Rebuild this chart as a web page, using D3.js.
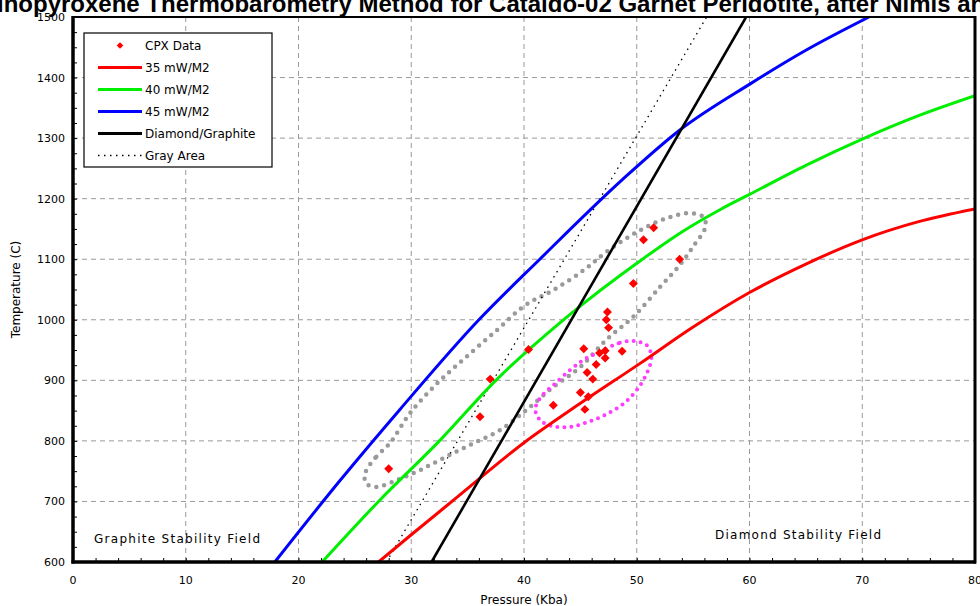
<!DOCTYPE html>
<html lang="en">
  <head>
    <meta charset="utf-8">
    <title>Thermobarometry</title>
    <script src="https://d3js.org/d3.v7.min.js"></script>
    <style>
      body { margin: 0; background: #fff; }
      text { font-family: "DejaVu Sans", sans-serif; }
      .title { font-family: "Liberation Sans", Arial, sans-serif; }
    </style>
  </head>

  <body>

    <script>

// ---- data (pressure in Kba, temperature in C) ----

  var titleText = "Clinopyroxene Thermobarometry Method for Cataldo-02 Garnet Peridotite, after Nimis and Taylor (2000)";

  var xTicks = [0, 10, 20, 30, 40, 50, 60, 70, 80];
  var yTicks = [600, 700, 800, 900, 1000, 1100, 1200, 1300, 1400, 1500];

  var cpxP = [28.0, 36.1, 37.0, 40.4, 42.6, 45.0, 45.7, 45.4, 45.6, 46.1, 46.4, 45.3, 46.7, 47.2, 47.2, 48.7, 47.3, 47.5, 47.4, 49.7, 50.6, 51.5, 53.8];
  var cpxT = [754, 840, 902, 951, 859, 880, 873, 852, 913, 902, 926, 952, 945, 949, 937, 948, 1000, 987, 1013, 1060, 1132, 1152, 1100];

  var geo35P = [27.1, 30, 33.8, 40, 45, 50.3, 55, 60, 65, 70, 75, 80];
  var geo35T = [600, 645, 703, 797, 862, 928, 988, 1045, 1092, 1132, 1162, 1183];

  var geo40P = [22.1, 27.1, 32.5, 37.5, 43.5, 50.5, 54, 57.5, 60, 65, 70.2, 75, 80];
  var geo40T = [600, 700, 800, 900, 1000, 1100, 1145, 1183, 1207, 1255, 1300, 1337, 1370];

  var geo45P = [17.9, 23.7, 29, 36, 41.4, 48.7, 53.8, 60.1, 65, 70.6];
  var geo45T = [600, 735, 852, 1000, 1100, 1231, 1313, 1390, 1445, 1500];

  var diamondP = [31.8, 59.7];
  var diamondT = [600, 1500];

  var grayLineP = [27.8, 56.2];
  var grayLineT = [600, 1500];

  // outline of the gray dotted field
  var grayAreaP = [25.9, 26.9, 28.1, 29.9, 32.3, 34.9, 37.6, 40.1, 42.6, 45.3, 47.3, 50.3, 52.7, 54.7, 55.9, 56.1,
                   55.0, 53.8, 52.1, 49.7, 47.3, 45.0, 42.6, 40.2, 37.9, 35.5, 33.1, 30.8, 28.7, 26.9, 26.0];
  var grayAreaT = [746, 774, 796, 846, 895, 939, 983, 1024, 1049, 1082, 1112, 1148, 1168, 1176, 1170, 1154,
                   1121, 1090, 1055, 1005, 967, 922, 889, 851, 818, 796, 774, 752, 735, 724, 730];

  // outline of the magenta dotted field
  var pinkAreaP = [46.7, 48.5, 49.7, 50.9, 51.3, 50.9, 50.0, 48.8, 47.2, 45.5, 44.0, 42.6, 41.5, 41.0, 41.4, 42.6, 44.1, 45.3];
  var pinkAreaT = [947, 962, 965, 958, 939, 912, 884, 861, 843, 830, 823, 824, 833, 851, 870, 892, 917, 934];

  var legendLabels = ["CPX Data", "35 mW/M2", "40 mW/M2", "45 mW/M2", "Diamond/Graphite", "Gray Area"];

// ---- svg ----

  var width = 980, height = 606;

  var svg = d3.select("body")
    .append("svg")
      .attr("width", width)
      .attr("height", height);

  var x = d3.scaleLinear().domain([0, 80]).range([73, 975]);
  var y = d3.scaleLinear().domain([600, 1500]).range([562, 17]);

  var zip = (ps, ts) => ps.map((p, i) => [p, ts[i]]);

  svg.append("clipPath").attr("id", "plot")
    .append("rect")
      .attr("x", 73).attr("y", 17)
      .attr("width", 902).attr("height", 545);

// title (wider than the page, clipped at both sides like the original)

  var title = svg.append("text")
      .attr("class", "title")
      .attr("y", 12)
      .attr("font-size", "24px")
      .attr("font-weight", "bold")
      .text(titleText);
  var clWidth = svg.append("text").attr("class", "title")
      .attr("font-size", "24px").attr("font-weight", "bold").text("Cl");
  title.attr("x", -clWidth.node().getComputedTextLength() - 3);
  clWidth.remove();

// grid

  var grid = svg.append("g")
      .attr("stroke", "#999")
      .attr("stroke-width", 1)
      .attr("stroke-dasharray", "5,4");

  grid.selectAll(".vg")
    .data(xTicks.slice(1, -1))
    .enter().append("line")
      .attr("x1", d => x(d)).attr("x2", d => x(d))
      .attr("y1", y(600)).attr("y2", y(1500));

  grid.selectAll(".hg")
    .data(yTicks.slice(1, -1))
    .enter().append("line")
      .attr("x1", x(0)).attr("x2", x(80))
      .attr("y1", d => y(d)).attr("y2", d => y(d));

// axes

  var xAxis = d3.axisBottom(x)
      .tickValues(d3.range(0, 81, 2))
      .tickSize(-4)
      .tickFormat("");
  svg.append("g")
      .attr("transform", "translate(0," + y(600) + ")")
      .call(xAxis)
      .call(g => g.select(".domain").remove());

  var yAxis = d3.axisLeft(y)
      .tickValues(d3.range(600, 1501, 25))
      .tickSize(-4)
      .tickFormat("");
  svg.append("g")
      .attr("transform", "translate(" + x(0) + ",0)")
      .call(yAxis)
      .call(g => g.select(".domain").remove());

  svg.append("g").selectAll("text")
    .data(xTicks)
    .enter().append("text")
      .attr("x", d => x(d))
      .attr("y", 584)
      .attr("text-anchor", "middle")
      .attr("font-size", "11px")
      .text(d => d);

  svg.append("g").selectAll("text")
    .data(yTicks)
    .enter().append("text")
      .attr("x", 65)
      .attr("y", d => y(d) + 4)
      .attr("text-anchor", "end")
      .attr("font-size", "11px")
      .text(d => d);

  svg.append("text")
      .attr("x", x(40))
      .attr("y", 604)
      .attr("text-anchor", "middle")
      .attr("font-size", "12px")
      .text("Pressure (Kba)");

  svg.append("text")
      .attr("transform", "translate(20," + y(1050) + ") rotate(-90)")
      .attr("text-anchor", "middle")
      .attr("font-size", "12px")
      .text("Temperature (C)");

// curves

  var line = d3.line()
      .x(d => x(d[0]))
      .y(d => y(d[1]))
      .curve(d3.curveMonotoneX);

  var loop = d3.line()
      .x(d => x(d[0]))
      .y(d => y(d[1]))
      .curve(d3.curveCatmullRomClosed.alpha(0.5));

  var plot = svg.append("g").attr("clip-path", "url(#plot)");

  plot.append("path")
      .attr("d", loop(zip(grayAreaP, grayAreaT)))
      .attr("fill", "none")
      .attr("stroke", "#9a9a9a")
      .attr("stroke-width", 4.5)
      .attr("stroke-linecap", "round")
      .attr("stroke-dasharray", "0,8");

  plot.append("path")
      .attr("d", loop(zip(pinkAreaP, pinkAreaT)))
      .attr("fill", "none")
      .attr("stroke", "#ff3cff")
      .attr("stroke-width", 4)
      .attr("stroke-linecap", "round")
      .attr("stroke-dasharray", "0,7");

  plot.append("path")
      .attr("d", line(zip(grayLineP, grayLineT)))
      .attr("fill", "none")
      .attr("stroke", "#000")
      .attr("stroke-width", 1.3)
      .attr("stroke-dasharray", "1.5,4.5");

  var curves = [
    { p: geo35P, t: geo35T, c: "#ff0000", w: 3 },
    { p: geo40P, t: geo40T, c: "#00ee00", w: 3 },
    { p: geo45P, t: geo45T, c: "#0000ff", w: 3 },
    { p: diamondP, t: diamondT, c: "#000000", w: 2.6 }
  ];

  plot.selectAll(".curve")
    .data(curves)
    .enter().append("path")
      .attr("d", d => line(zip(d.p, d.t)))
      .attr("fill", "none")
      .attr("stroke", d => d.c)
      .attr("stroke-width", d => d.w);

  var diamond = d3.symbol().type(d3.symbolSquare).size(40);

  plot.selectAll(".cpx")
    .data(zip(cpxP, cpxT))
    .enter().append("path")
      .attr("d", diamond)
      .attr("transform", d => "translate(" + x(d[0]) + "," + y(d[1]) + ") rotate(45)")
      .attr("fill", "#ff0000");

// frame

  svg.append("rect")
      .attr("x", 73).attr("y", 17)
      .attr("width", 902).attr("height", 545)
      .attr("fill", "none")
      .attr("stroke", "#000")
      .attr("stroke-width", 2);

  svg.append("line")
      .attr("x1", 73).attr("x2", 73).attr("y1", 16).attr("y2", 563.5)
      .attr("stroke", "#000").attr("stroke-width", 3.5);
  svg.append("line")
      .attr("x1", 71.5).attr("x2", 976).attr("y1", 562).attr("y2", 562)
      .attr("stroke", "#000").attr("stroke-width", 3.5);
  svg.append("line")
      .attr("x1", 975).attr("x2", 975).attr("y1", 16).attr("y2", 563.5)
      .attr("stroke", "#000").attr("stroke-width", 3);

// field labels

  svg.append("text")
      .attr("x", 94).attr("y", 543)
      .attr("font-size", "12px")
      .attr("textLength", 166)
      .attr("lengthAdjust", "spacing")
      .text("Graphite Stability Field");

  svg.append("text")
      .attr("x", 715).attr("y", 539)
      .attr("font-size", "12px")
      .attr("textLength", 166)
      .attr("lengthAdjust", "spacing")
      .text("Diamond Stability Field");

// legend

  var legend = svg.append("g");

  legend.append("rect")
      .attr("x", 84).attr("y", 33)
      .attr("width", 188).attr("height", 134)
      .attr("fill", "#fff")
      .attr("stroke", "#000")
      .attr("stroke-width", 1.2);

  var rows = legend.selectAll(".row")
    .data(legendLabels)
    .enter().append("g")
      .attr("transform", (d, i) => "translate(0," + (45.5 + i * 22) + ")");

  rows.append("text")
      .attr("x", 145)
      .attr("y", 4.5)
      .attr("font-size", "12px")
      .text(d => d);

  legend.append("path")
      .attr("d", d3.symbol().type(d3.symbolSquare).size(22))
      .attr("transform", "translate(120,45.5) rotate(45)")
      .attr("fill", "#ff0000");

  legend.selectAll(".ll")
    .data(curves)
    .enter().append("line")
      .attr("x1", 98).attr("x2", 142)
      .attr("y1", (d, i) => 45.5 + (i + 1) * 22)
      .attr("y2", (d, i) => 45.5 + (i + 1) * 22)
      .attr("stroke", d => d.c)
      .attr("stroke-width", 3);

  legend.append("line")
      .attr("x1", 98).attr("x2", 142)
      .attr("y1", 45.5 + 5 * 22).attr("y2", 45.5 + 5 * 22)
      .attr("stroke", "#000")
      .attr("stroke-width", 1.3)
      .attr("stroke-dasharray", "1.5,4.5");

    </script>

  </body>

</html>
